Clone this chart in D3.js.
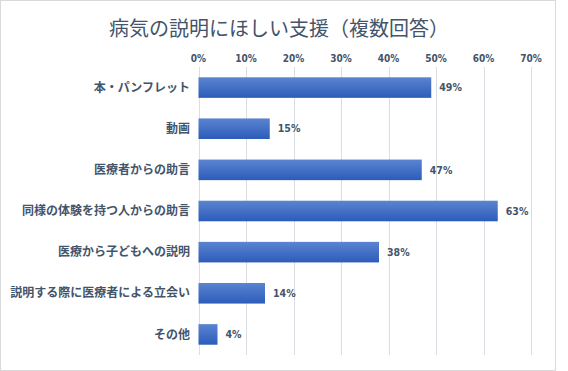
<!DOCTYPE html>
<html>
<head>
<meta charset="utf-8">
<script src="https://cdn.jsdelivr.net/npm/d3@7"></script>
<style>
  body { margin: 0; background: #fff; }
  svg { display: block; }
  .tick-label { font-family: "DejaVu Sans Condensed", "DejaVu Sans", sans-serif; font-weight: bold; font-size: 10px; fill: #44546a; }
  .cat-label { font-family: "Noto Sans CJK JP", sans-serif; font-weight: bold; font-size: 12px; fill: #44546a; }
  .val-label { font-family: "DejaVu Sans Condensed", "DejaVu Sans", sans-serif; font-weight: bold; font-size: 10.5px; fill: #44546a; }
  .title { font-family: "Noto Sans CJK JP", sans-serif; font-size: 20px; fill: #44546a; }
</style>
</head>
<body>
<svg id="chart" width="568" height="371"></svg>
<script>
const titleText = "病気の説明にほしい支援（複数回答）"
const categories = ["本・パンフレット", "動画", "医療者からの助言", "同様の体験を持つ人からの助言", "医療から子どもへの説明", "説明する際に医療者による立会い", "その他"]
const values = [49, 15, 47, 63, 38, 14, 4]
const ticks = [0, 10, 20, 30, 40, 50, 60, 70]

const svg = d3.select("#chart")

// chart frame
svg.append("rect")
  .attr("x", 0.5).attr("y", 0.5)
  .attr("width", 555).attr("height", 370)
  .attr("fill", "#fff")
  .attr("stroke", "#d9d9d9")

const defs = svg.append("defs")
const grad = defs.append("linearGradient")
  .attr("id", "barGrad")
  .attr("x1", 0).attr("y1", 0).attr("x2", 0).attr("y2", 1)
grad.append("stop").attr("offset", "0%").attr("stop-color", "#5b84d1")
grad.append("stop").attr("offset", "100%").attr("stop-color", "#2c5cba")

const x = d3.scaleLinear().domain([0, 70]).range([198.5, 531])
const y = d3.scaleBand().domain(categories).range([67, 355]).paddingInner(0.5).paddingOuter(0.25)

// gridlines
svg.append("g")
  .selectAll("line")
  .data(ticks)
  .join("line")
  .attr("x1", d => Math.round(x(d)) + 0.5)
  .attr("x2", d => Math.round(x(d)) + 0.5)
  .attr("y1", 67)
  .attr("y2", 355)
  .attr("stroke", "#d9dde4")
  .attr("stroke-width", 1)

// tick labels on top
svg.append("g")
  .selectAll("text")
  .data(ticks)
  .join("text")
  .attr("class", "tick-label")
  .attr("x", d => x(d))
  .attr("y", 62)
  .attr("text-anchor", "middle")
  .text(d => d + "%")

// bars
svg.append("g")
  .selectAll("rect")
  .data(values)
  .join("rect")
  .attr("x", x(0))
  .attr("y", (d, i) => y(categories[i]))
  .attr("width", d => x(d) - x(0))
  .attr("height", y.bandwidth())
  .attr("fill", "url(#barGrad)")

// value labels
svg.append("g")
  .selectAll("text")
  .data(values)
  .join("text")
  .attr("class", "val-label")
  .attr("x", d => x(d) + 8)
  .attr("y", (d, i) => y(categories[i]) + y.bandwidth() / 2)
  .attr("dy", "0.35em")
  .text(d => d + "%")

// category labels
svg.append("g")
  .selectAll("text")
  .data(categories)
  .join("text")
  .attr("class", "cat-label")
  .attr("x", 190)
  .attr("y", d => y(d) + y.bandwidth() / 2)
  .attr("dy", "0.35em")
  .attr("text-anchor", "end")
  .text(d => d)

svg.append("text")
  .attr("class", "title")
  .attr("x", 279)
  .attr("y", 36)
  .attr("text-anchor", "middle")
  .text(titleText)
</script>
</body>
</html>
